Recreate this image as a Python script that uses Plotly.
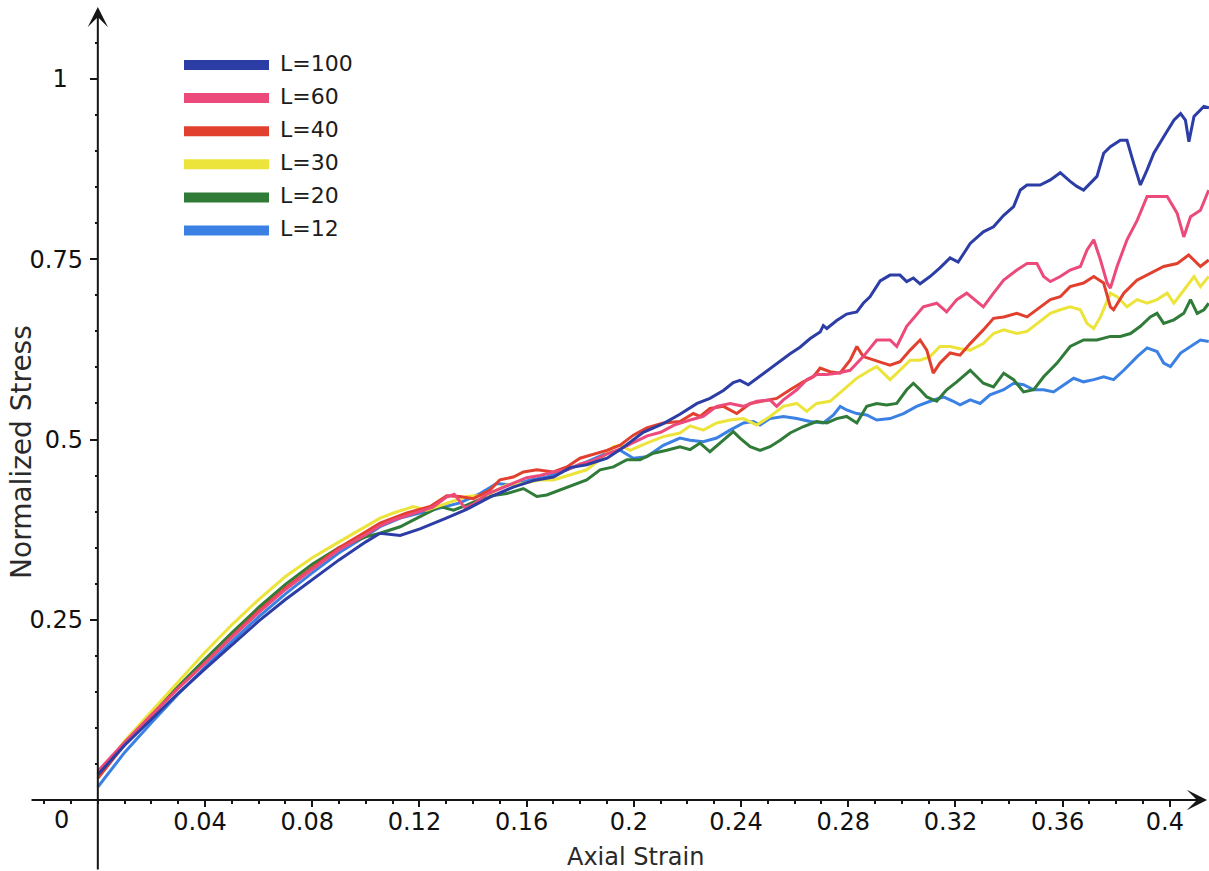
import plotly.graph_objects as go

# ---------------- data ----------------
# each list: (axial strain, normalized stress)
L100 = [(0, 0.035), (0.005, 0.055), (0.01, 0.076), (0.02, 0.112), (0.03, 0.148), (0.04, 0.182),
        (0.05, 0.215), (0.06, 0.248), (0.07, 0.278), (0.08, 0.305), (0.09, 0.333), (0.1, 0.358),
        (0.1053, 0.370), (0.1128, 0.367), (0.1202, 0.376), (0.130, 0.391), (0.1376, 0.403),
        (0.1463, 0.420), (0.155, 0.434), (0.1625, 0.443), (0.170, 0.448), (0.1762, 0.461),
        (0.1824, 0.465), (0.19, 0.474), (0.196, 0.489), (0.2035, 0.510), (0.211, 0.522),
        (0.2172, 0.535), (0.2236, 0.550), (0.2284, 0.557), (0.2334, 0.568), (0.2371, 0.579),
        (0.2396, 0.582), (0.2427, 0.576), (0.2459, 0.585), (0.2508, 0.598), (0.2546, 0.609),
        (0.2583, 0.619), (0.262, 0.628), (0.2658, 0.640), (0.2695, 0.649), (0.2707, 0.658),
        (0.272, 0.654), (0.2757, 0.665), (0.2794, 0.674), (0.2832, 0.677), (0.2856, 0.689),
        (0.2881, 0.698), (0.2919, 0.720), (0.2956, 0.728), (0.2993, 0.728), (0.3018, 0.719),
        (0.3043, 0.724), (0.3068, 0.716), (0.3105, 0.726), (0.3142, 0.738), (0.318, 0.752),
        (0.321, 0.746), (0.3255, 0.772), (0.3304, 0.788), (0.3342, 0.795), (0.338, 0.811),
        (0.3417, 0.823), (0.3442, 0.846), (0.3467, 0.853), (0.3516, 0.853), (0.3554, 0.860),
        (0.3591, 0.870), (0.3628, 0.858), (0.3653, 0.851), (0.3678, 0.846), (0.3703, 0.855),
        (0.3728, 0.865), (0.3753, 0.897), (0.3778, 0.906), (0.3815, 0.915), (0.384, 0.915),
        (0.3865, 0.883), (0.389, 0.853), (0.3915, 0.874), (0.394, 0.897), (0.3977, 0.920),
        (0.4015, 0.943), (0.404, 0.952), (0.4058, 0.943), (0.4071, 0.913), (0.409, 0.948),
        (0.4127, 0.962), (0.4146, 0.960)]

L60 = [(0, 0.040), (0.005, 0.060), (0.01, 0.080), (0.02, 0.118), (0.03, 0.155), (0.04, 0.190),
       (0.05, 0.226), (0.06, 0.260), (0.07, 0.292), (0.08, 0.320), (0.09, 0.347), (0.1, 0.368),
       (0.105, 0.380), (0.11, 0.388), (0.115, 0.394), (0.12, 0.400), (0.125, 0.406), (0.13, 0.420),
       (0.133, 0.424), (0.137, 0.405), (0.14, 0.410), (0.145, 0.424), (0.15, 0.432), (0.155, 0.440),
       (0.16, 0.447), (0.165, 0.450), (0.17, 0.455), (0.175, 0.458), (0.18, 0.466), (0.185, 0.471),
       (0.19, 0.480), (0.195, 0.487), (0.2, 0.496), (0.205, 0.505), (0.21, 0.510), (0.215, 0.520),
       (0.221, 0.527), (0.2259, 0.532), (0.2309, 0.546), (0.2359, 0.550), (0.2409, 0.546),
       (0.2459, 0.553), (0.2508, 0.555), (0.2533, 0.546), (0.2558, 0.555), (0.2608, 0.569),
       (0.2645, 0.583), (0.2682, 0.590), (0.272, 0.590), (0.2757, 0.592), (0.2807, 0.596),
       (0.2856, 0.615), (0.2906, 0.638), (0.2956, 0.638), (0.2981, 0.629), (0.3018, 0.657),
       (0.308, 0.684), (0.313, 0.689), (0.3167, 0.677), (0.3205, 0.694), (0.3242, 0.703),
       (0.3304, 0.684), (0.3342, 0.703), (0.338, 0.721), (0.3429, 0.735), (0.3467, 0.744),
       (0.3504, 0.744), (0.3529, 0.726), (0.3554, 0.719), (0.3591, 0.726), (0.3628, 0.735),
       (0.3666, 0.740), (0.3691, 0.763), (0.3716, 0.777), (0.3741, 0.749), (0.3766, 0.717),
       (0.3778, 0.710), (0.3803, 0.740), (0.384, 0.777), (0.3878, 0.804), (0.3915, 0.837),
       (0.3952, 0.837), (0.399, 0.837), (0.4027, 0.814), (0.4052, 0.781), (0.4077, 0.809),
       (0.4114, 0.818), (0.4145, 0.846)]

L40 = [(0, 0.030), (0.005, 0.054), (0.01, 0.077), (0.02, 0.117), (0.03, 0.155), (0.04, 0.190),
       (0.05, 0.227), (0.06, 0.262), (0.07, 0.294), (0.08, 0.322), (0.09, 0.350), (0.1, 0.372),
       (0.1053, 0.384), (0.1153, 0.398), (0.124, 0.407), (0.1302, 0.422), (0.1351, 0.421),
       (0.1401, 0.418), (0.1463, 0.430), (0.15, 0.444), (0.155, 0.448), (0.1588, 0.455),
       (0.1638, 0.458), (0.17, 0.455), (0.175, 0.462), (0.1799, 0.474), (0.1849, 0.479),
       (0.1899, 0.485), (0.1949, 0.492), (0.1998, 0.506), (0.2048, 0.516), (0.211, 0.523),
       (0.2172, 0.525), (0.2222, 0.536), (0.2247, 0.532), (0.2284, 0.543), (0.2334, 0.546),
       (0.2384, 0.536), (0.2434, 0.550), (0.2483, 0.553), (0.2533, 0.557), (0.2583, 0.569),
       (0.2632, 0.580), (0.267, 0.587), (0.2695, 0.599), (0.2732, 0.594), (0.2769, 0.592),
       (0.2807, 0.610), (0.2832, 0.629), (0.2856, 0.615), (0.2894, 0.610), (0.2931, 0.606),
       (0.2956, 0.603), (0.2993, 0.608), (0.3031, 0.624), (0.3068, 0.638), (0.3093, 0.624),
       (0.3117, 0.592), (0.3142, 0.606), (0.318, 0.620), (0.3217, 0.617), (0.3255, 0.633),
       (0.3304, 0.652), (0.3342, 0.668), (0.338, 0.670), (0.3429, 0.675), (0.3467, 0.670),
       (0.3504, 0.680), (0.3554, 0.694), (0.3591, 0.698), (0.3628, 0.712), (0.3678, 0.717),
       (0.3716, 0.726), (0.3753, 0.717), (0.3778, 0.684), (0.379, 0.680), (0.3828, 0.703),
       (0.3877, 0.721), (0.3927, 0.731), (0.3977, 0.740), (0.4027, 0.744), (0.407, 0.756),
       (0.4114, 0.740), (0.4145, 0.749)]

L30 = [(0, 0.030), (0.005, 0.057), (0.01, 0.082), (0.02, 0.123), (0.03, 0.165), (0.04, 0.205),
       (0.05, 0.243), (0.06, 0.278), (0.07, 0.310), (0.08, 0.336), (0.09, 0.358), (0.1, 0.380),
       (0.1053, 0.391), (0.1103, 0.398), (0.1177, 0.407), (0.1227, 0.402), (0.1302, 0.412),
       (0.1376, 0.421), (0.1451, 0.423), (0.1526, 0.437), (0.1588, 0.439), (0.165, 0.444),
       (0.17, 0.444), (0.1774, 0.453), (0.1824, 0.458), (0.1874, 0.472), (0.1924, 0.490),
       (0.1949, 0.492), (0.1986, 0.485), (0.2048, 0.495), (0.211, 0.504), (0.2172, 0.509),
       (0.221, 0.519), (0.2259, 0.513), (0.2309, 0.523), (0.2359, 0.527), (0.2409, 0.529),
       (0.2459, 0.520), (0.2508, 0.532), (0.2558, 0.546), (0.2608, 0.550), (0.2645, 0.539),
       (0.2682, 0.550), (0.2732, 0.553), (0.2782, 0.569), (0.2832, 0.585), (0.2881, 0.596),
       (0.2906, 0.601), (0.2931, 0.592), (0.2956, 0.583), (0.2993, 0.596), (0.3031, 0.610),
       (0.3068, 0.610), (0.3105, 0.615), (0.3142, 0.629), (0.318, 0.629), (0.3217, 0.626),
       (0.3255, 0.624), (0.3304, 0.633), (0.3342, 0.647), (0.338, 0.652), (0.3429, 0.647),
       (0.3467, 0.650), (0.3504, 0.661), (0.3554, 0.675), (0.3591, 0.680), (0.3628, 0.684),
       (0.3666, 0.680), (0.3691, 0.661), (0.3716, 0.654), (0.3741, 0.670), (0.3778, 0.703),
       (0.3803, 0.698), (0.384, 0.684), (0.3878, 0.694), (0.3915, 0.689), (0.3952, 0.694),
       (0.399, 0.703), (0.4015, 0.689), (0.4052, 0.707), (0.409, 0.726), (0.4114, 0.712),
       (0.4145, 0.726)]

L20 = [(0, 0.035), (0.005, 0.058), (0.01, 0.080), (0.02, 0.120), (0.03, 0.158), (0.04, 0.195),
       (0.05, 0.232), (0.06, 0.267), (0.07, 0.299), (0.08, 0.327), (0.09, 0.350), (0.1, 0.365),
       (0.1053, 0.370), (0.1128, 0.379), (0.1202, 0.393), (0.1277, 0.407), (0.1327, 0.402),
       (0.1376, 0.409), (0.1451, 0.421), (0.1526, 0.425), (0.1588, 0.432), (0.1638, 0.421),
       (0.1675, 0.423), (0.1725, 0.430), (0.1774, 0.437), (0.1824, 0.444), (0.1874, 0.458),
       (0.1924, 0.462), (0.1974, 0.472), (0.2023, 0.472), (0.2073, 0.481), (0.2123, 0.485),
       (0.2172, 0.490), (0.221, 0.486), (0.2247, 0.495), (0.2284, 0.483), (0.2334, 0.499),
       (0.2371, 0.511), (0.2396, 0.502), (0.2434, 0.490), (0.2471, 0.485), (0.2508, 0.490),
       (0.2546, 0.499), (0.2583, 0.509), (0.2633, 0.518), (0.2682, 0.525), (0.272, 0.523),
       (0.2757, 0.529), (0.2794, 0.532), (0.2832, 0.523), (0.2869, 0.546), (0.2906, 0.550),
       (0.2943, 0.548), (0.2981, 0.550), (0.3018, 0.569), (0.3043, 0.578), (0.3068, 0.569),
       (0.3093, 0.559), (0.313, 0.553), (0.3167, 0.569), (0.3205, 0.580), (0.3255, 0.596),
       (0.3304, 0.578), (0.3342, 0.573), (0.338, 0.592), (0.3417, 0.583), (0.3454, 0.566),
       (0.3492, 0.569), (0.3529, 0.587), (0.3579, 0.606), (0.3628, 0.629), (0.3678, 0.638),
       (0.3728, 0.638), (0.3778, 0.643), (0.3815, 0.643), (0.3853, 0.647), (0.389, 0.657),
       (0.3927, 0.670), (0.3952, 0.675), (0.3977, 0.661), (0.4015, 0.666), (0.4052, 0.675),
       (0.4077, 0.694), (0.4102, 0.675), (0.4127, 0.680), (0.4145, 0.689)]

L12 = [(0, 0.018), (0.005, 0.042), (0.01, 0.066), (0.02, 0.107), (0.03, 0.147), (0.04, 0.184),
       (0.05, 0.220), (0.06, 0.254), (0.07, 0.286), (0.08, 0.315), (0.09, 0.343), (0.1, 0.366),
       (0.1053, 0.379), (0.1128, 0.391), (0.1202, 0.398), (0.1277, 0.405), (0.1351, 0.412),
       (0.1426, 0.425), (0.1488, 0.439), (0.155, 0.437), (0.1613, 0.444), (0.1675, 0.448),
       (0.175, 0.458), (0.1824, 0.469), (0.1899, 0.481), (0.1949, 0.485), (0.1998, 0.474),
       (0.2048, 0.476), (0.211, 0.492), (0.2172, 0.502), (0.221, 0.499), (0.2259, 0.497),
       (0.2309, 0.502), (0.2359, 0.513), (0.2409, 0.523), (0.2446, 0.525), (0.2471, 0.520),
       (0.2508, 0.529), (0.2558, 0.532), (0.2608, 0.529), (0.2658, 0.525), (0.2707, 0.523),
       (0.2745, 0.534), (0.277, 0.546), (0.2794, 0.541), (0.2832, 0.536), (0.2869, 0.534),
       (0.2906, 0.527), (0.2956, 0.529), (0.3006, 0.536), (0.3055, 0.546), (0.3105, 0.553),
       (0.3155, 0.559), (0.3192, 0.553), (0.3217, 0.548), (0.3255, 0.555), (0.3292, 0.550),
       (0.3329, 0.562), (0.338, 0.569), (0.3417, 0.578), (0.3454, 0.576), (0.3492, 0.569),
       (0.3529, 0.569), (0.3566, 0.566), (0.3604, 0.576), (0.3641, 0.585), (0.3678, 0.580),
       (0.3716, 0.583), (0.3753, 0.587), (0.379, 0.583), (0.3828, 0.596), (0.3878, 0.615),
       (0.3915, 0.627), (0.3952, 0.622), (0.3977, 0.606), (0.4002, 0.601), (0.404, 0.620),
       (0.4077, 0.629), (0.4114, 0.638), (0.4145, 0.636)]

series_names = ["L=100", "L=60", "L=40", "L=30", "L=20", "L=12"]
series_data = [L100, L60, L40, L30, L20, L12]
series_colors = ["#2c3da6", "#ec4a7b", "#e2402f", "#ece43a", "#2f7b37", "#3b81e4"]

x_tick_values = [0.04, 0.08, 0.12, 0.16, 0.2, 0.24, 0.28, 0.32, 0.36, 0.4]
x_tick_labels = ["0.04", "0.08", "0.12", "0.16", "0.2", "0.24", "0.28", "0.32", "0.36", "0.4"]
x_minor_values = [round(-0.02 + 0.01 * i, 2) for i in range(44)]
y_tick_values = [0.25, 0.5, 0.75, 1.0]
y_tick_labels = ["0.25", "0.5", "0.75", "1\u00a0\u00a0"]
y_minor_values = [round(0.05 * i, 2) for i in range(1, 22)]

# ---------------- figure ----------------
W, H = 1209, 871
X_RANGE = [-0.0365, 0.4146]
Y_RANGE = [-0.0985, 1.1096]

fig = go.Figure()
# draw in reverse so that L=100 ends on top
for name, pts, col in reversed(list(zip(series_names, series_data, series_colors))):
    fig.add_trace(go.Scatter(
        x=[p[0] for p in pts], y=[p[1] for p in pts], mode="lines", name=name,
        line=dict(color=col, width=3), showlegend=False, hoverinfo="skip"))

def frac(v, rng):
    return (v - rng[0]) / (rng[1] - rng[0])

tick_font = dict(family="DejaVu Sans", size=24, color="#111111")
axis_col = "#161616"

fig.update_layout(
    width=W, height=H, autosize=False,
    margin=dict(l=0, r=0, t=0, b=0, pad=0),
    paper_bgcolor="white", plot_bgcolor="white",
    showlegend=False,
    xaxis=dict(range=X_RANGE, domain=[0, 1], anchor="free", position=frac(0, Y_RANGE),
               showgrid=False, zeroline=False, showline=False,
               ticks="outside", ticklen=6, tickwidth=2, tickcolor=axis_col,
               tickmode="array", tickvals=x_tick_values, ticktext=x_tick_labels,
               tickfont=tick_font, ticklabelshift=-5, ticklabelstandoff=-6,
               minor=dict(tickmode="array", tickvals=x_minor_values, ticks="outside",
                          ticklen=3, tickwidth=1.5, tickcolor=axis_col)),
    yaxis=dict(range=Y_RANGE, domain=[0, 1], anchor="free", position=frac(0, X_RANGE),
               showgrid=False, zeroline=False, showline=False,
               ticks="outside", ticklen=8, tickwidth=2, tickcolor=axis_col,
               tickmode="array", tickvals=y_tick_values, ticktext=y_tick_labels,
               tickfont=tick_font, ticklabelstandoff=2,
               minor=dict(tickmode="array", tickvals=y_minor_values, ticks="outside",
                          ticklen=3, tickwidth=1.5, tickcolor=axis_col)),
)

annotations = [
    # x axis line with arrow
    dict(x=0.4139, y=0, ax=-0.0253, ay=0, xref="x", yref="y", axref="x", ayref="y",
         text="", showarrow=True, arrowhead=3, arrowsize=1.7, arrowwidth=2, arrowcolor=axis_col,
         standoff=0, startstandoff=0),
    # y axis line with arrow
    dict(x=0, y=1.1, ax=0, ay=-0.0985, xref="x", yref="y", axref="x", ayref="y",
         text="", showarrow=True, arrowhead=3, arrowsize=1.7, arrowwidth=2, arrowcolor=axis_col,
         standoff=0, startstandoff=0),
    # origin label
    dict(x=-0.0135, y=-0.028, xref="x", yref="y", text="0", showarrow=False,
         xanchor="center", yanchor="middle", font=tick_font),
    # axis titles
    dict(x=0.2008, y=-0.0785, xref="x", yref="y", text="Axial Strain", showarrow=False,
         xanchor="center", yanchor="middle",
         font=dict(family="DejaVu Sans", size=24, color="#2a2a2a")),
    dict(x=-0.0283, y=0.4827, xref="x", yref="y", text="Normalized Stress", showarrow=False,
         textangle=-90, xanchor="center", yanchor="middle",
         font=dict(family="DejaVu Sans", size=28, color="#2a2a2a")),
]

# custom legend (long swatches, as in the reference)
shapes = []
for i, (name, col) in enumerate(zip(series_names, series_colors)):
    ypx = 65 + i * 33.1
    yp = 1 - ypx / H
    shapes.append(dict(type="line", xref="paper", yref="paper",
                       x0=184 / W, x1=269 / W, y0=yp, y1=yp,
                       line=dict(color=col, width=10)))
    annotations.append(dict(x=278 / W, y=1 - (ypx - 2) / H, xref="paper", yref="paper",
                            text=name, showarrow=False, xanchor="left", yanchor="middle",
                            font=dict(family="DejaVu Sans", size=22, color="#1c1c1c")))

fig.update_layout(annotations=annotations, shapes=shapes)

fig.write_html("out.html", config={"displayModeBar": False},
               post_script="document.body.style.margin='0px';")
